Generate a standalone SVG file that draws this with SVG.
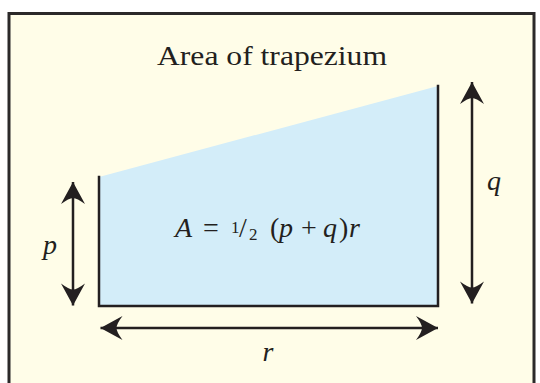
<svg xmlns="http://www.w3.org/2000/svg" width="540" height="383" viewBox="0 0 540 383">
<style>
.frame{fill:#fffde8;stroke:#2b2929;stroke-width:3}
.shape{fill:#d3edf9;stroke:none}
.edge{fill:none;stroke:#231f20;stroke-width:2.5;stroke-linejoin:miter;stroke-linecap:square}
.dim{fill:none;stroke:#231f20;stroke-width:2.5}
text{font-family:'Liberation Serif','DejaVu Serif',serif;fill:#231f20}
.i{font-style:italic}
</style>
<defs>
<marker id="ah" viewBox="-24 -14 26 28" markerWidth="26" markerHeight="28" refX="0" refY="0" orient="auto-start-reverse" markerUnits="userSpaceOnUse">
<path d="M0,0 L-22,-12 Q-16,-4 -16,0 Q-16,4 -22,12 Z" fill="#231f20"/>
</marker>
</defs>
<rect class="frame" x="9" y="13.5" width="525" height="380"/>
<g id="trapezium">
<polygon class="shape" points="99,177 438,86 438,306 99,306"/>
<polyline class="edge" points="99,177 99,306 438,306 438,86"/>
</g>
<g id="title"><text font-family="Liberation Serif, DejaVu Serif, serif" x="272" y="65" font-size="27" text-anchor="middle" textLength="230" lengthAdjust="spacingAndGlyphs">Area of trapezium</text></g>
<g id="formula">
<text font-family="Liberation Serif, DejaVu Serif, serif" y="237" font-size="28"><tspan class="i" x="175">A</tspan><tspan x="203">=</tspan><tspan x="231" y="233" font-size="17">1</tspan><tspan x="239" y="237" font-size="28">/</tspan><tspan x="249" y="240" font-size="17">2</tspan><tspan x="270" y="237" font-size="28">(</tspan><tspan class="i" x="279">p</tspan><tspan x="301">+</tspan><tspan class="i" x="323">q</tspan><tspan x="339">)</tspan><tspan class="i" x="349">r</tspan></text>
</g>
<g id="connectors">
<line class="dim" x1="73" y1="182" x2="73" y2="305.5" marker-start="url(#ah)" marker-end="url(#ah)"/>
<line class="dim" x1="472" y1="82" x2="472" y2="303.5" marker-start="url(#ah)" marker-end="url(#ah)"/>
<line class="dim" x1="100.5" y1="328" x2="438" y2="328" marker-start="url(#ah)" marker-end="url(#ah)"/>
</g>
<g id="labels">
<text class="i" font-family="Liberation Serif, DejaVu Serif, serif" x="50" y="254" font-size="28" text-anchor="middle">p</text>
<text class="i" font-family="Liberation Serif, DejaVu Serif, serif" x="494" y="190" font-size="28" text-anchor="middle">q</text>
<text class="i" font-family="Liberation Serif, DejaVu Serif, serif" x="268" y="361" font-size="28" text-anchor="middle">r</text>
</g>
</svg>
